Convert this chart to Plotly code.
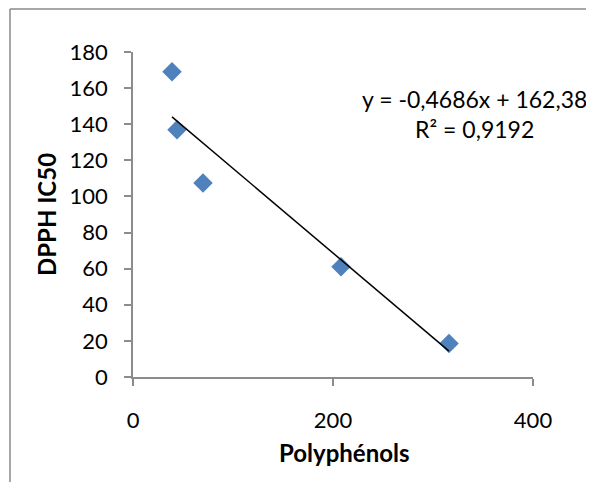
import plotly.graph_objects as go

# values
polyphenols = [39, 44, 70, 208, 316]
dpph_ic50 = [169, 137, 107.5, 61, 18.5]

# trendline as shown on the chart (Excel linear fit)
slope = -0.4686
intercept = 162.38
r_squared = 0.9192

x_ticks = [0, 200, 400]
y_ticks = [0, 20, 40, 60, 80, 100, 120, 140, 160, 180]

font = "Lato, Open Sans, sans-serif"
axis_grey = "#8c8c8c"

x_fit = [min(polyphenols), max(polyphenols)]
y_fit = [slope * v + intercept for v in x_fit]

fig = go.Figure()
fig.add_trace(go.Scatter(
    x=polyphenols, y=dpph_ic50,
    mode="markers",
    marker=dict(symbol="diamond", size=15, color="#4f81bd"),
    showlegend=False,
))
fig.add_trace(go.Scatter(
    x=x_fit, y=y_fit,
    mode="lines",
    line=dict(color="black", width=1.5),
    showlegend=False,
))

eq = "y = {:.4f}x + {:.2f}".format(slope, intercept).replace(".", ",")
r2 = "R² = {:.4f}".format(r_squared).replace(".", ",")
fig.add_annotation(
    x=0.8525, y=0.81, xref="paper", yref="paper",
    xanchor="center", yanchor="middle",
    text=eq + "<br>" + r2,
    showarrow=False, align="center",
    font=dict(family=font, size=23, color="black"),
)

# x title sits a little right of the plot centre in the original
fig.add_annotation(
    x=0.5275, y=-0.231, xref="paper", yref="paper",
    xanchor="center", yanchor="middle",
    text="<b>Polyphénols</b>", showarrow=False,
    font=dict(family=font, size=24, color="black"),
)

# outer chart border (only top/left visible in the crop)
fig.add_shape(type="line", xref="paper", yref="paper",
              x0=-0.3075, x1=1.3, y0=1.132, y1=1.132,
              line=dict(color="#8a8a8a", width=1.5))
fig.add_shape(type="line", xref="paper", yref="paper",
              x0=-0.3075, x1=-0.3075, y0=1.132, y1=-0.4,
              line=dict(color="#8a8a8a", width=1.5))

# page body has an 8px margin, so the figure is 8px smaller
fig.update_layout(
    width=586, height=474,
    margin=dict(l=125, r=61, t=44, b=105),
    paper_bgcolor="white", plot_bgcolor="white",
    font=dict(family=font, size=22, color="black"),
    xaxis=dict(
        range=[0, 400], tickvals=x_ticks,
        showgrid=False, zeroline=False,
        showline=True, linecolor=axis_grey, linewidth=1.5,
        ticks="outside", ticklen=7, tickcolor=axis_grey, tickwidth=1.5,
        ticklabelstandoff=16,
    ),
    yaxis=dict(
        range=[0, 180], tickvals=y_ticks,
        showgrid=False, zeroline=False,
        showline=True, linecolor=axis_grey, linewidth=1.5,
        ticks="outside", ticklen=7, tickcolor=axis_grey, tickwidth=1.5,
        ticklabelstandoff=12,
        title=dict(text="<b>DPPH IC50</b>", standoff=6,
                   font=dict(family=font, size=24)),
    ),
)

fig.write_html("out.html")
